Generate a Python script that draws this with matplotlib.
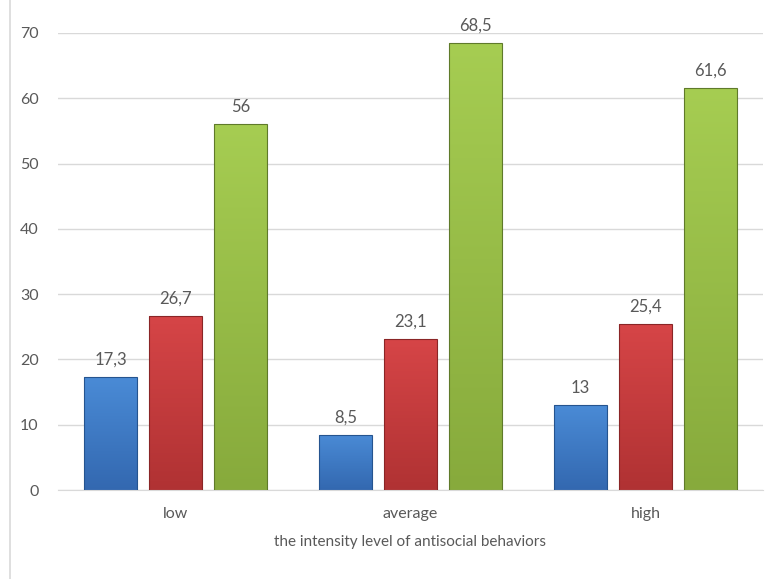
import matplotlib.pyplot as plt
import numpy as np
from matplotlib.colors import LinearSegmentedColormap
from matplotlib.lines import Line2D

categories = ["low", "average", "high"]
series_blue = [17.3, 8.5, 13]
series_red = [26.7, 23.1, 25.4]
series_green = [56, 68.5, 61.6]
value_labels = [["17,3", "8,5", "13"], ["26,7", "23,1", "25,4"], ["56", "68,5", "61,6"]]
y_ticks = [0, 10, 20, 30, 40, 50, 60, 70]

# (top colour, bottom colour, edge colour)
STYLES = [
    ("#4a8bd6", "#3368b0", "#25548f"),
    ("#d64547", "#b03233", "#8a2526"),
    ("#a6cd52", "#87aa3c", "#5f7a2a"),
]
TEXT = "#595959"

plt.rcParams["font.family"] = ["Lato", "DejaVu Sans"]

fig = plt.figure(figsize=(7.75, 5.79), dpi=100)
ax = fig.add_axes([58 / 775, 1 - 490 / 579, 705 / 775, 457 / 579])

x = np.arange(len(categories))
width = 53 / 235
step = 65 / 235

for i, vals in enumerate([series_blue, series_red, series_green]):
    top, bottom, edge = STYLES[i]
    pos = x + (i - 1) * step
    bars = ax.bar(pos, vals, width, color="none", edgecolor=edge, linewidth=0.8, zorder=3)
    grad = np.linspace(0, 1, 256).reshape(-1, 1)
    cmap = LinearSegmentedColormap.from_list(f"g{i}", [bottom, top])
    for bar, v, lab in zip(bars, vals, value_labels[i]):
        bx, bw = bar.get_x(), bar.get_width()
        im = ax.imshow(grad, extent=(bx, bx + bw, 0, v), origin="lower",
                       cmap=cmap, aspect="auto", zorder=2)
        im.set_clip_path(bar)
        ax.text(bx + bw / 2, v + 1.4, lab, ha="center", va="bottom",
                fontsize=12, color=TEXT)

ax.set_xlim(-0.5, 2.5)
ax.set_ylim(0, 70)
ax.set_yticks(y_ticks)
ax.set_xticks(x)
ax.set_xticklabels(categories)
ax.tick_params(axis="both", length=0, labelsize=11.5, labelcolor=TEXT)
ax.tick_params(axis="y", pad=14)
ax.tick_params(axis="x", pad=12)
ax.set_xlabel("the intensity level of antisocial behaviors", fontsize=11,
              color=TEXT, labelpad=10)
ax.grid(axis="y", color="#d9d9d9", linewidth=1, zorder=0)
ax.set_axisbelow(True)
for side in ["top", "right", "left"]:
    ax.spines[side].set_visible(False)
ax.spines["bottom"].set_color("#d9d9d9")

fig.add_artist(Line2D([10 / 775, 10 / 775], [0.0, 1.0], color="#d9d9d9",
                      linewidth=1.2, transform=fig.transFigure))

fig.savefig("out.png", dpi=100)
